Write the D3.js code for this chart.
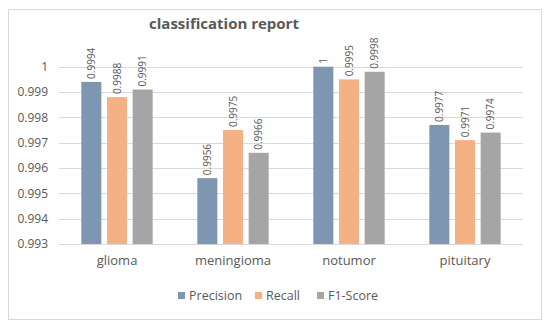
<!DOCTYPE html>
<html>
<head>
<meta charset="utf-8">
<script src="https://cdn.jsdelivr.net/npm/d3@7"></script>
<style>
  body { margin: 0; background: #fff; }
  text { font-family: "Open Sans", "Noto Sans", sans-serif; fill: #595959; }
</style>
</head>
<body>
<script>
var categories = ['glioma', 'meningioma', 'notumor', 'pituitary'];
var series = ['Precision', 'Recall', 'F1-Score'];
var precision = [0.9994, 0.9956, 1, 0.9977];
var recall = [0.9988, 0.9975, 0.9995, 0.9971];
var f1 = [0.9991, 0.9966, 0.9998, 0.9974];
var yTicks = [0.993, 0.994, 0.995, 0.996, 0.997, 0.998, 0.999, 1];
var colors = ['#7f96b2', '#f4b183', '#a5a5a5'];

var values = [precision, recall, f1];

var svg = d3.select('body').append('svg').attr('width', 550).attr('height', 328);

// chart border
svg.append('rect')
    .attr('x', 8.5).attr('y', 9.5)
    .attr('width', 533).attr('height', 310)
    .attr('fill', '#fff')
    .attr('stroke', '#d9d9d9');

svg.append('text')
    .attr('x', 224).attr('y', 29)
    .attr('text-anchor', 'middle')
    .style('font-size', '15px')
    .style('font-weight', 'bold')
    .text('classification report');

var x0 = d3.scaleBand().domain(categories).range([59, 523]).paddingInner(0.385).paddingOuter(0.1925);
var x1 = d3.scaleBand().domain(series).range([0, x0.bandwidth()]).paddingInner(0.22);
var y = d3.scaleLinear().domain([0.993, 1]).range([244, 66.7]);

// gridlines
svg.append('g').selectAll('line')
    .data(yTicks)
    .enter()
    .append('line')
    .attr('x1', 59).attr('x2', 523)
    .attr('y1', function(d) { return Math.round(y(d)) + 0.5; })
    .attr('y2', function(d) { return Math.round(y(d)) + 0.5; })
    .attr('stroke', '#d9d9d9');

var yAxis = svg.append('g')
    .attr('transform', 'translate(59,0)')
    .call(d3.axisLeft(y).tickValues(yTicks).tickSize(0).tickPadding(11).tickFormat(function(d) { return d === 1 ? '1' : d3.format('.3f')(d); }));
yAxis.select('.domain').remove();
yAxis.selectAll('text').style('font-size', '12px').attr('fill', '#595959');

var xAxis = svg.append('g')
    .attr('transform', 'translate(0,244)')
    .call(d3.axisBottom(x0).tickSize(0).tickPadding(12));
xAxis.select('.domain').remove();
xAxis.selectAll('text').style('font-size', '13px').attr('fill', '#595959');

var groups = svg.append('g').selectAll('g')
    .data(categories)
    .enter()
    .append('g')
    .attr('transform', function(d) { return 'translate(' + x0(d) + ',0)'; });

groups.selectAll('rect')
    .data(function(d, i) { return series.map(function(s, j) { return { s: s, v: values[j][i], j: j }; }); })
    .enter()
    .append('rect')
    .attr('x', function(d) { return x1(d.s); })
    .attr('y', function(d) { return y(d.v); })
    .attr('width', x1.bandwidth())
    .attr('height', function(d) { return y(0.993) - y(d.v); })
    .attr('fill', function(d) { return colors[d.j]; });

groups.selectAll('text.lbl')
    .data(function(d, i) { return series.map(function(s, j) { return { s: s, v: values[j][i], j: j }; }); })
    .enter()
    .append('text')
    .attr('class', 'lbl')
    .attr('transform', function(d) {
        return 'translate(' + (x1(d.s) + x1.bandwidth() / 2) + ',' + (y(d.v) - 3) + ') rotate(-90)';
    })
    .attr('dy', '0.35em')
    .style('font-size', '10px')
    .text(function(d) { return d.v; });

// legend
var legendX = [178, 255, 317];
var legend = svg.append('g').selectAll('g')
    .data(series)
    .enter()
    .append('g')
    .attr('transform', function(d, i) { return 'translate(' + legendX[i] + ',292)'; });
legend.append('rect')
    .attr('width', 7).attr('height', 7)
    .attr('fill', function(d, i) { return colors[i]; });
legend.append('text')
    .attr('x', 11).attr('y', 4)
    .attr('dy', '0.35em')
    .style('font-size', '12.5px')
    .text(function(d) { return d; });
</script>
</body>
</html>
